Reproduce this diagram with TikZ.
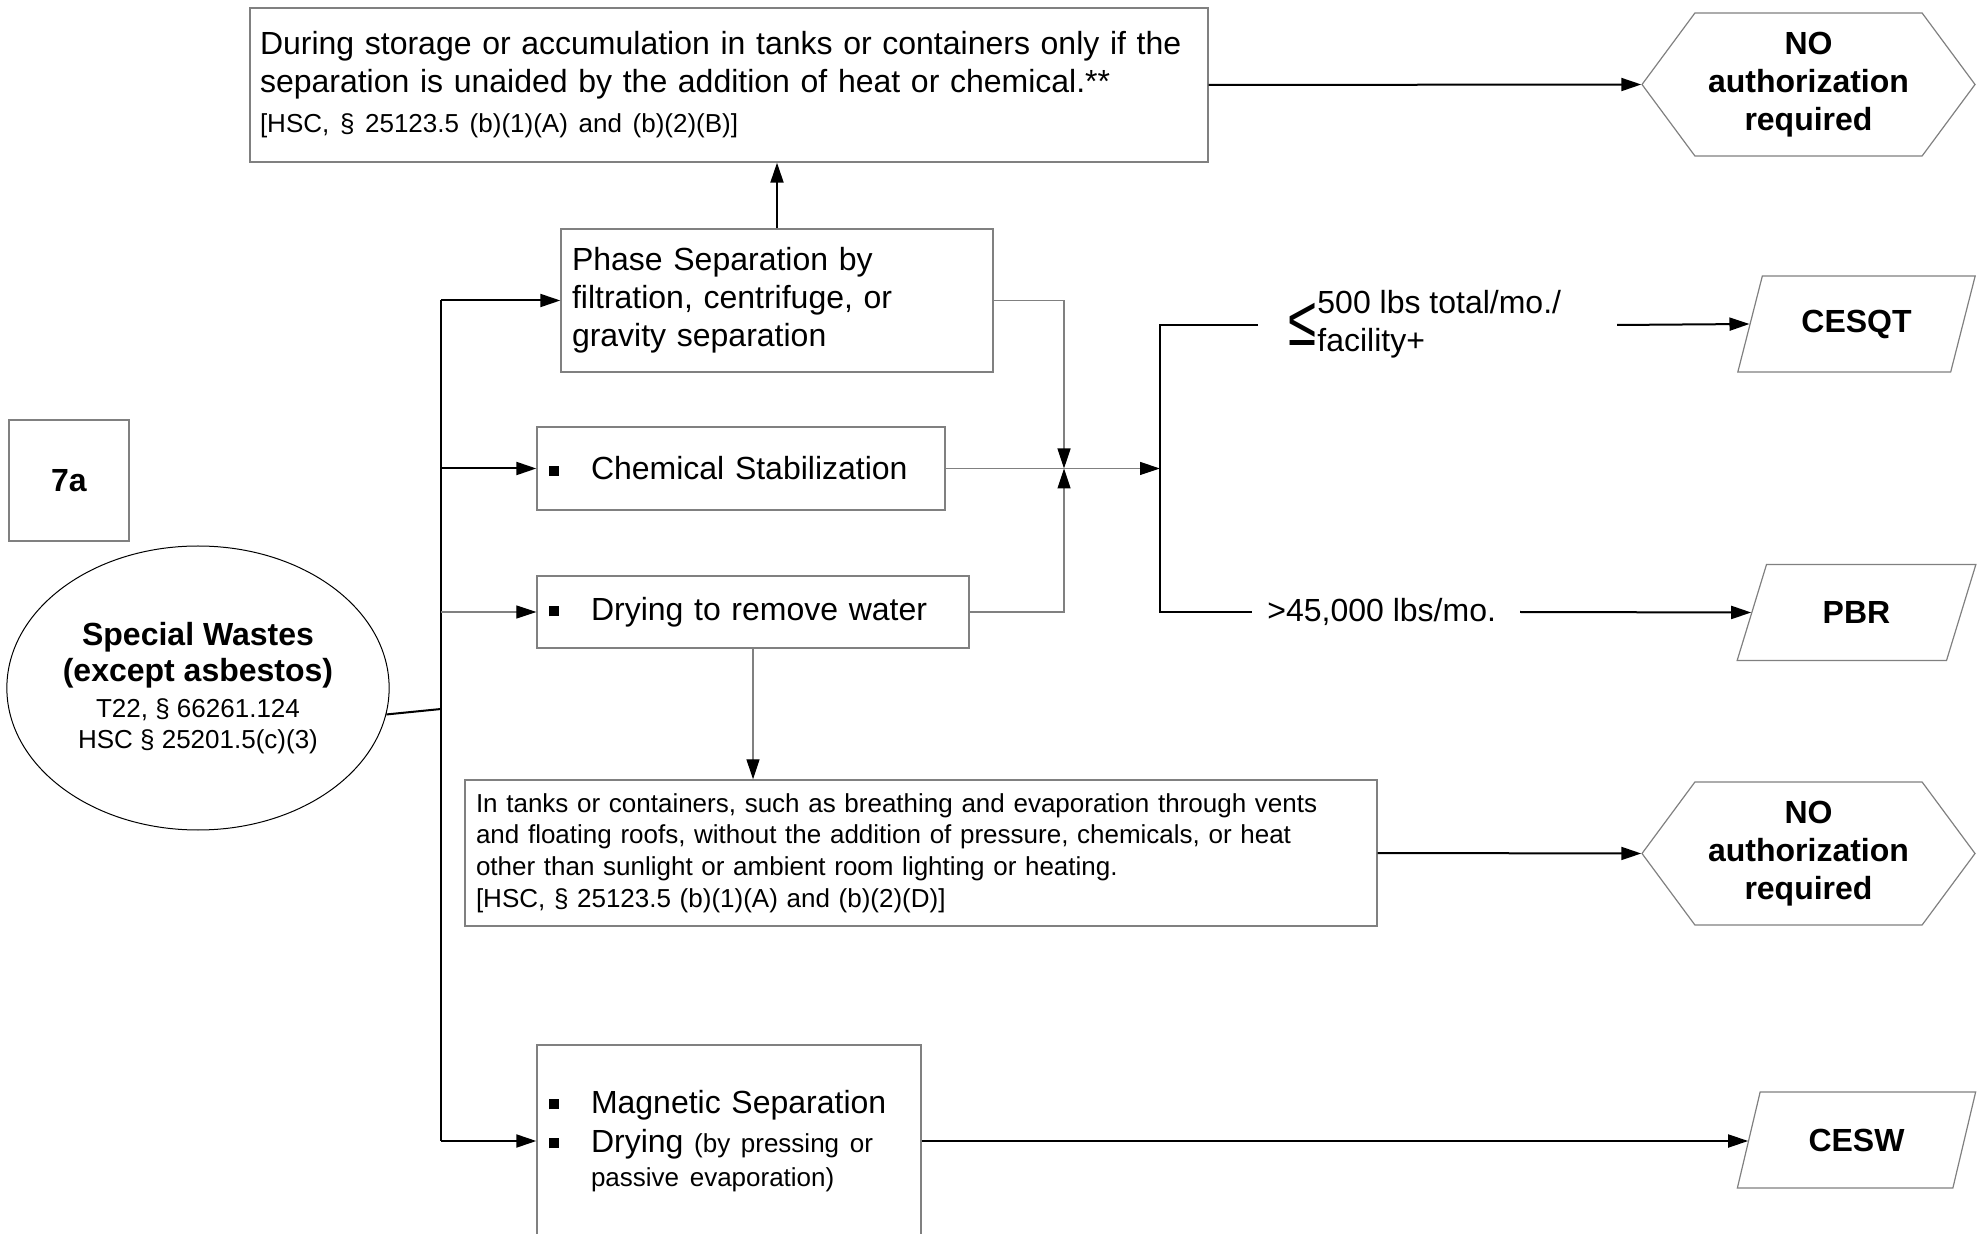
\documentclass[tikz,border=0pt]{standalone}
\usepackage{fontspec}
\setmainfont{Liberation Sans}
\usepackage{graphicx}
\usetikzlibrary{arrows.meta,shapes.geometric,shapes.symbols}

\definecolor{boxgray}{RGB}{128,128,128}
\newcommand{\bigtxt}{\fontsize{16pt}{19pt}\selectfont}
\newcommand{\smalltxt}{\fontsize{13pt}{15.8pt}\selectfont}
\newcommand{\sqbul}{\makebox[21pt][l]{\rule[2pt]{5pt}{5pt}}}

\tikzset{
  procbox/.style={draw=boxgray, line width=0.7pt, rectangle, align=left, inner ysep=0pt, font=\bigtxt},
  hexbox/.style={draw=boxgray, line width=0.6pt, signal, signal to=west and east, signal pointer angle=107,
    minimum width=166.5pt, minimum height=71.5pt, inner sep=0pt, align=center, font=\bigtxt\bfseries},
  outbox/.style={draw=boxgray, line width=0.6pt, trapezium, trapezium left angle=63.4, trapezium right angle=116.6,
    trapezium stretches=true, minimum width=119.5pt, minimum height=48pt, inner sep=0pt, font=\bigtxt\bfseries},
  link/.style={line width=1pt, -{Triangle[length=10pt,width=6.5pt]}},
  glink/.style={draw=boxgray, line width=0.6pt, -{Triangle[length=10pt,width=6.5pt,color=black]}},
  wire/.style={line width=1pt},
}

\begin{document}
\begin{tikzpicture}[x=0.5pt,y=0.5pt,yscale=-1]
    \useasboundingbox (0,0) rectangle (1986,1234);
    \clip (0,0) rectangle (1986,1234);

    \node [procbox, minimum width=60pt, minimum height=60.5pt, align=center, font=\bigtxt\bfseries] (sec) at (69,480.5) {7a};
    \node [ellipse, draw, line width=0.5pt, minimum width=189pt, minimum height=142pt, inner sep=0pt, align=center, font=\bigtxt] (waste) at (198,688)
        {\textbf{Special Wastes}\\[-1pt]\textbf{(except asbestos)}\\[-1pt]{\smalltxt T22, § 66261.124}\\[-3.5pt]{\smalltxt HSC § 25201.5(c)(3)}};

    \node [procbox, minimum width=479pt, minimum height=77pt, text width=469pt, inner xsep=5pt] (stor) at (729,85)
        {During storage or accumulation in tanks or containers only if the\\separation is unaided by the addition of heat or chemical.**\\[1pt]{\smalltxt [HSC, § 25123.5 (b)(1)(A) and (b)(2)(B)]}};
    \node [procbox, minimum width=216pt, minimum height=71.5pt, text width=205pt, inner xsep=5.5pt] (phase) at (777,300.5)
        {Phase Separation by\\filtration, centrifuge, or\\gravity separation};
    \node [procbox, minimum width=204pt, minimum height=41.5pt, text width=192pt, inner xsep=6pt] (chem) at (741,468.5)
        {\sqbul Chemical Stabilization};
    \node [procbox, minimum width=216pt, minimum height=36pt, text width=204pt, inner xsep=6pt] (dry) at (753,612)
        {\sqbul Drying to remove water};
    \node [procbox, font=\smalltxt, minimum width=456pt, minimum height=73pt, text width=445pt, inner xsep=5.5pt] (tank) at (921,853)
        {In tanks or containers, such as breathing and evaporation through vents\\and floating roofs, without the addition of pressure, chemicals, or heat\\other than sunlight or ambient room lighting or heating.\\{}[HSC, § 25123.5 (b)(1)(A) and (b)(2)(D)]};
    \node [procbox, minimum width=192pt, minimum height=96pt, text width=180pt, inner xsep=6pt] (mag) at (729,1141)
        {\sqbul Magnetic Separation\\[0.5pt]\sqbul Drying {\smalltxt (by pressing or}\\[-2pt]\hspace*{21pt}{\smalltxt passive evaporation)}};

    \node [hexbox] (no1) at (1808.5,84.5) {NO\\authorization\\required};
    \node [hexbox] (no2) at (1808.5,853.5) {NO\\authorization\\required};
    \node [outbox] (cesqt) at (1856.5,324) {CESQT};
    \node [outbox] (pbr) at (1856.5,612.5) {PBR};
    \node [outbox] (cesw) at (1856.5,1140) {CESW};

    \node [anchor=west, inner sep=0pt, align=left, font=\bigtxt] (low) at (1317,324) {500 lbs total/mo./\\facility+};
    \node [anchor=east, inner sep=0pt, font=\bigtxt] (lesym) at (low.west) {\scalebox{1.6}[2.2]{≤}};
    \node [anchor=west, inner sep=0pt, font=\bigtxt] (high) at (1267,612) {>45,000 lbs/mo.};

    \coordinate (tt) at (441,300.5);
    \coordinate (tj) at (441,709);
    \coordinate (jn) at (1064,468.5);
    \coordinate (split) at (1160,468.5);
    \coordinate (bt) at (1160,325);
    \coordinate (bb) at (1160,612);
    \coordinate (bte) at (1258,325);
    \coordinate (bbe) at (1252,612);
    \coordinate (ca) at (1617,325);
    \coordinate (pa) at (1520,612);

    \draw [link] (stor.east) -- (no1.west);
    \draw [link] (phase.north) -- (phase.north |- stor.south);
    \draw [wire] (waste.-8) -- (tj);
    \draw [wire] (tt) -- (tt |- mag.west);
    \draw [link] (tt) -- (phase.west);
    \draw [link] (tt |- chem.west) -- (chem.west);
    \draw [glink] (tt |- dry.west) -- (dry.west);
    \draw [link] (tt |- mag.west) -- (mag.west);
    \draw [glink] (phase.east) -| (jn);
    \draw [glink] (dry.east) -| (jn);
    \draw [glink] (chem.east) -- (split);
    \draw [wire] (bte) -- (bt) -- (bb) -- (bbe);
    \draw [link] (ca) -- (cesqt.left side);
    \draw [link] (pa) -- (pbr.left side);
    \draw [glink] (dry.south) -- (dry.south |- tank.north);
    \draw [link] (tank.east) -- (no2.west);
    \draw [link] (mag.east) -- (mag.east -| cesw.left side);
\end{tikzpicture}
\end{document}
